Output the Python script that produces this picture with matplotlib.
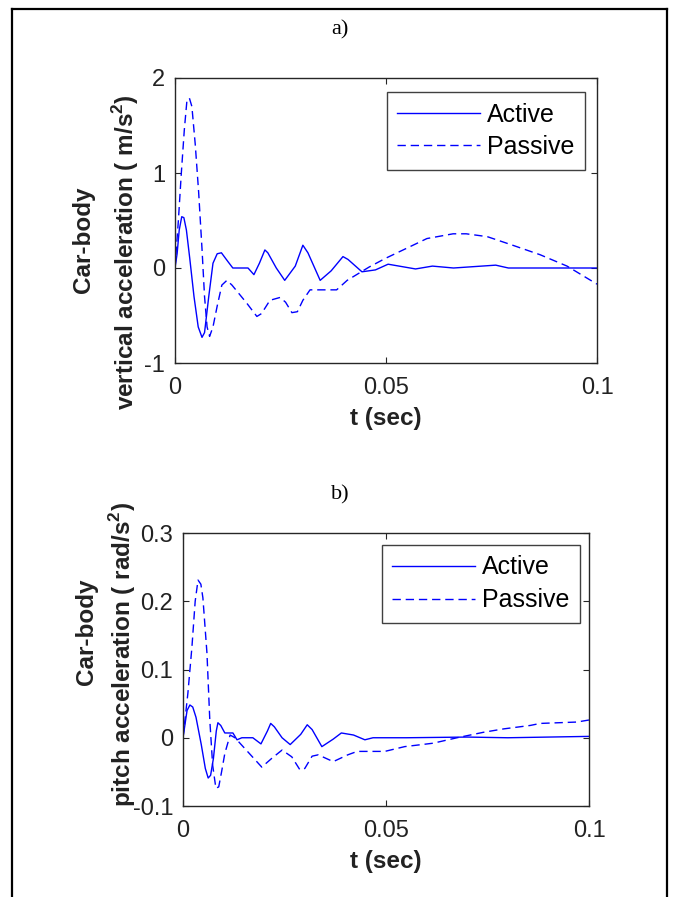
import numpy as np
import matplotlib.pyplot as plt
from matplotlib.lines import Line2D

plt.rcParams['font.family'] = ['Liberation Sans', 'DejaVu Sans']
plt.rcParams['mathtext.fontset'] = 'custom'
plt.rcParams['mathtext.bf'] = 'Liberation Sans:bold'
plt.rcParams['mathtext.rm'] = 'Liberation Sans'

# panel a: car-body vertical acceleration (m/s^2)
t_a_act = [0, 0.0005, 0.0010, 0.0016, 0.0021, 0.0027, 0.0035, 0.0045, 0.0055, 0.0064, 0.0070,
           0.0080, 0.0090, 0.0100, 0.0110, 0.0125, 0.0137, 0.0173, 0.0187, 0.0200, 0.0213,
           0.0220, 0.0240, 0.0260, 0.0285, 0.0303, 0.0315, 0.0344, 0.0370, 0.0398, 0.0410,
           0.0443, 0.0475, 0.0505, 0.0570, 0.0610, 0.0660, 0.0760, 0.0790, 0.1]
v_a_act = [0, 0.15, 0.40, 0.54, 0.53, 0.40, 0.10, -0.30, -0.62, -0.73, -0.68,
           -0.30, 0.05, 0.15, 0.16, 0.07, 0.0, 0.0, -0.07, 0.05, 0.19,
           0.16, 0.0, -0.13, 0.02, 0.24, 0.16, -0.13, -0.03, 0.12, 0.09,
           -0.04, -0.02, 0.04, -0.01, 0.02, 0.0, 0.03, 0.0, 0.0]
t_a_pas = [0, 0.0008, 0.0015, 0.0022, 0.0028, 0.0034, 0.0040, 0.0048, 0.0056, 0.0064, 0.0070,
           0.0076, 0.0082, 0.0090, 0.0100, 0.0111, 0.0123, 0.0135, 0.0170, 0.0194, 0.0205,
           0.0225, 0.0249, 0.0262, 0.0277, 0.0290, 0.0303, 0.0320, 0.0383, 0.0408, 0.0460,
           0.0498, 0.0550, 0.0597, 0.0659, 0.0690, 0.0740, 0.0800, 0.0865, 0.0929, 0.1]
v_a_pas = [0, 0.50, 1.00, 1.45, 1.75, 1.79, 1.70, 1.30, 0.80, 0.20, -0.30,
           -0.62, -0.72, -0.62, -0.40, -0.18, -0.13, -0.18, -0.37, -0.51, -0.48,
           -0.34, -0.31, -0.36, -0.47, -0.46, -0.34, -0.23, -0.23, -0.13, 0.01,
           0.10, 0.21, 0.31, 0.36, 0.36, 0.33, 0.24, 0.14, 0.02, -0.17]

# panel b: car-body pitch acceleration (rad/s^2)
t_b_act = [0, 0.0005, 0.0010, 0.0017, 0.0024, 0.0032, 0.0045, 0.0055, 0.0062, 0.0068, 0.0075,
           0.0082, 0.0086, 0.0093, 0.0103, 0.0123, 0.0133, 0.0145, 0.0172, 0.0192, 0.0208,
           0.0216, 0.0225, 0.0244, 0.0264, 0.0290, 0.0306, 0.0318, 0.0342, 0.0370, 0.0390,
           0.0420, 0.0448, 0.0468, 0.0550, 0.0700, 0.0800, 0.0900, 0.1]
v_b_act = [0, 0.020, 0.040, 0.048, 0.045, 0.030, -0.010, -0.045, -0.059, -0.055, -0.030,
           0.010, 0.022, 0.018, 0.007, 0.007, -0.003, 0.0, 0.0, -0.009, 0.010,
           0.021, 0.016, 0.0, -0.010, 0.005, 0.019, 0.012, -0.013, -0.002, 0.007,
           0.004, -0.003, 0.0, 0.0, 0.001, 0.0, 0.001, 0.002]
t_b_pas = [0, 0.0012, 0.0022, 0.0030, 0.0037, 0.0044, 0.0049, 0.0059, 0.0066, 0.0073, 0.0081,
           0.0088, 0.0095, 0.0103, 0.0116, 0.0128, 0.0148, 0.0194, 0.0219, 0.0244, 0.0268,
           0.0288, 0.0300, 0.0318, 0.0333, 0.0370, 0.0406, 0.0429, 0.0470, 0.0497, 0.0546,
           0.0616, 0.0675, 0.0740, 0.0790, 0.0855, 0.0880, 0.0970, 0.1]
v_b_pas = [0, 0.065, 0.133, 0.200, 0.231, 0.225, 0.205, 0.124, 0.026, -0.040, -0.074,
           -0.072, -0.050, -0.023, 0.004, 0.0, -0.013, -0.043, -0.030, -0.018, -0.028,
           -0.047, -0.045, -0.027, -0.025, -0.035, -0.025, -0.020, -0.020, -0.020, -0.013,
           -0.008, 0.0, 0.008, 0.013, 0.018, 0.021, 0.023, 0.026]

fig = plt.figure(figsize=(6.74, 8.97), dpi=100)
W, H = 674.0, 897.0

def px_axes(l, t, r, b):
    return fig.add_axes([l / W, 1 - b / H, (r - l) / W, (b - t) / H])

panels = [
    dict(box=(175, 78, 597, 363), ylim=(-1, 2), yticks=[-1, 0, 1, 2], yfmt=['-1', '0', '1', '2'],
         data=(t_a_act, v_a_act, t_a_pas, v_a_pas),
         lab1='Car-body', lab2=r'vertical acceleration ( m/s$^{\mathbf{2}}$)',
         c1=(84, 240), c2=(126, 252), leg=(585, 92), title='a)', ty=30),
    dict(box=(183, 533, 589, 806), ylim=(-0.1, 0.3), yticks=[-0.1, 0, 0.1, 0.2, 0.3],
         yfmt=['-0.1', '0', '0.1', '0.2', '0.3'],
         data=(t_b_act, v_b_act, t_b_pas, v_b_pas),
         lab1='Car-body', lab2=r'pitch acceleration ( rad/s$^{\mathbf{2}}$)',
         c1=(87, 632), c2=(123, 655), leg=(580, 545), title='b)', ty=495),
]

for p in panels:
    l, t, r, b = p['box']
    ax = px_axes(l, t, r, b)
    ta, va, tp, vp = p['data']
    ax.plot(ta, va, color='blue', lw=1.0, label='Active')
    ax.plot(tp, vp, color='blue', lw=1.0, dashes=(6, 3.5), label='Passive')
    ax.set_xlim(0, 0.1)
    ax.set_ylim(*p['ylim'])
    ax.set_xticks([0, 0.05, 0.1])
    ax.set_xticklabels(['0', '0.05', '0.1'])
    ax.set_yticks(p['yticks'])
    ax.set_yticklabels(p['yfmt'])
    ax.tick_params(direction='in', length=4, width=0.8, top=True, right=True,
                   labelsize=17, colors='#262626', labelcolor='#222222', pad=7)
    ax.tick_params(axis='x', pad=10)
    for s in ax.spines.values():
        s.set_color('#262626')
        s.set_linewidth(1.0)
    ax.set_xlabel('t (sec)', fontsize=17.5, fontweight='bold', color='#222222', labelpad=6)
    for txt, (cx, cy) in ((p['lab1'], p['c1']), (p['lab2'], p['c2'])):
        fig.text(cx / W, 1 - cy / H, txt, rotation=90, ha='center', va='center',
                 fontsize=17.5, fontweight='bold', color='#222222')
    lx, ly = p['leg']
    leg = ax.legend(loc='upper right', bbox_to_anchor=(lx / W, 1 - ly / H),
                    bbox_transform=fig.transFigure, borderaxespad=0, fontsize=18,
                    handlelength=3.3, handletextpad=0.3, labelspacing=0.35,
                    borderpad=0.42, fancybox=False, framealpha=1, edgecolor='#404040')
    leg.get_frame().set_linewidth(1.0)
    fig.text(340 / W, 1 - p['ty'] / H, p['title'], ha='center', va='center',
             fontsize=16, family='Liberation Serif')

# outer frame (open at the bottom)
for xs, ys in (([12, 12], [9, 897]), ([667, 667], [9, 897]), ([12, 667], [9, 9])):
    fig.add_artist(Line2D([x / W for x in xs], [1 - y / H for y in ys],
                          color='black', lw=1.6, transform=fig.transFigure))

fig.savefig('out.png', dpi=100)
